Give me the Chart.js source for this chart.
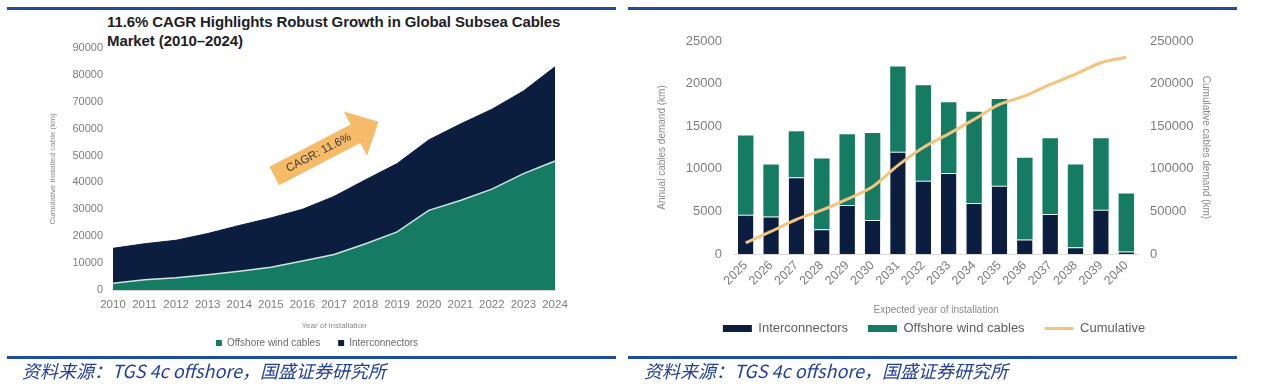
<!DOCTYPE html>
<html>
<head>
<meta charset="utf-8">
<title>Global Subsea Cables</title>
<script src="https://cdn.jsdelivr.net/npm/chart.js@4.4.0/dist/chart.umd.min.js"></script>
<style>
  body { margin:0; background:#fff; width:1268px; height:392px; position:relative; overflow:hidden;
         font-family:"Liberation Sans", Arial, sans-serif; }
  .rule { position:absolute; height:3px; background:#1d4d9e; }
  .box { position:absolute; }
  .title { position:absolute; left:107px; top:12px; font-weight:bold; font-size:15px; line-height:19px;
           color:#1e1e26; letter-spacing:-0.1px; }
  .source { position:absolute; top:360px; font-size:18px; line-height:21px; font-style:italic; color:#22409a;
            font-family:"Noto Sans CJK SC", sans-serif; white-space:nowrap; }
</style>
</head>
<body>
<div class="rule" style="left:7px; width:609px; top:7px;"></div>
<div class="rule" style="left:628px; width:609px; top:7px;"></div>
<div class="rule" style="left:7px; width:609px; top:356px;"></div>
<div class="rule" style="left:628px; width:609px; top:356px;"></div>

<div class="title">11.6% CAGR Highlights Robust Growth in Global Subsea Cables<br>Market (2010–2024)</div>

<div class="box" style="left:0; top:0;"><canvas id="installed" width="610" height="358"></canvas></div>
<div class="box" style="left:630px; top:20px;"><canvas id="demand" width="610" height="325"></canvas></div>

<div class="source" style="left:22px;">资料来源：TGS 4c offshore，国盛证券研究所</div>
<div class="source" style="left:644px;">资料来源：TGS 4c offshore，国盛证券研究所</div>

<script>
// left chart: cumulative installed cable (km), stacked
const installYears = ['2010', '2011', '2012', '2013', '2014', '2015', '2016', '2017',
                      '2018', '2019', '2020', '2021', '2022', '2023', '2024'];
const offshoreInstalled = [2500, 3800, 4600, 5700, 7000, 8500, 10800, 13200,
                           17200, 21600, 29600, 33300, 37500, 43300, 48000];
const interconnInstalled = [13000, 13400, 13900, 15300, 17000, 18300, 19200, 21600,
                            23800, 25400, 26200, 28400, 29700, 30700, 35000];

// right chart: expected annual demand (km) and cumulative (km)
const demandYears = ['2025', '2026', '2027', '2028', '2029', '2030', '2031', '2032',
                     '2033', '2034', '2035', '2036', '2037', '2038', '2039', '2040'];
const interconnAnnual = [4600, 4400, 9000, 2900, 5750, 4000, 12000, 8600,
                         9500, 6000, 8000, 1700, 4700, 800, 5200, 300];
const offshoreAnnual = [9300, 6100, 5400, 8300, 8300, 10200, 10000, 11200,
                        8300, 10700, 10200, 9600, 8900, 9700, 8400, 6800];
const cumulativeDemand = [13000, 26500, 40500, 51500, 64500, 79000, 104000, 125000,
                          141000, 158000, 175500, 185500, 199000, 211000, 224500, 231000];

const NAVY = '#0b1e3f';
const GREEN = '#157b63';
const ORANGE = '#f4c37c';
const TICK = '#7d7d7d';
const plain = v => String(v);

// arrow annotation, in (category index, value) coordinates
const arrowTail = [5.11, 42400];
const arrowTip = [8.41, 62600];

const cagrArrow = {
  id: 'cagrArrow',
  afterDatasetsDraw(chart) {
    const { ctx, scales: { x, y } } = chart;
    const tx = x.getPixelForValue(arrowTail[0]), ty = y.getPixelForValue(arrowTail[1]);
    const hx = x.getPixelForValue(arrowTip[0]), hy = y.getPixelForValue(arrowTip[1]);
    const len = Math.hypot(hx - tx, hy - ty);
    const sw = 10.5, hw = 25, hl = 26;
    ctx.save();
    ctx.translate(tx, ty);
    ctx.rotate(Math.atan2(hy - ty, hx - tx));
    ctx.beginPath();
    ctx.moveTo(0, -sw);
    ctx.lineTo(len - hl, -sw);
    ctx.lineTo(len - hl, -hw);
    ctx.lineTo(len, 0);
    ctx.lineTo(len - hl, hw);
    ctx.lineTo(len - hl, sw);
    ctx.lineTo(0, sw);
    ctx.closePath();
    ctx.fillStyle = '#f5bb68';
    ctx.fill();
    ctx.fillStyle = '#3b3b3b';
    ctx.font = '11.5px "Liberation Sans", Arial, sans-serif';
    ctx.textAlign = 'center';
    ctx.textBaseline = 'middle';
    ctx.fillText('CAGR: 11.6%', 50, 0);
    ctx.restore();
  }
};

const solidLegend = (chart) =>
  Chart.defaults.plugins.legend.labels.generateLabels(chart).map(l => ({ ...l, strokeStyle: l.fillStyle, lineWidth: 0 }));

new Chart(document.getElementById('installed'), {
  type: 'line',
  data: {
    labels: installYears,
    datasets: [
      {
        label: 'Offshore wind cables',
        data: offshoreInstalled,
        backgroundColor: GREEN,
        borderColor: '#cfe6de',
        borderWidth: 1.5,
        fill: 'origin',
        pointRadius: 0,
        pointStyle: 'rect',
        tension: 0
      },
      {
        label: 'Interconnectors',
        data: interconnInstalled,
        backgroundColor: NAVY,
        borderColor: NAVY,
        borderWidth: 1,
        fill: '-1',
        pointRadius: 0,
        pointStyle: 'rect',
        tension: 0
      }
    ]
  },
  options: {
    responsive: false,
    animation: false,
    devicePixelRatio: 1,
    layout: { padding: { left: 44, top: 48, right: 20, bottom: 0 } },
    plugins: {
      tooltip: { enabled: false },
      legend: {
        position: 'bottom',
        labels: {
          usePointStyle: true,
          boxHeight: 6,
          boxWidth: 6,
          padding: 18,
          color: '#6a6a6a',
          font: { size: 10, family: '"Liberation Sans", Arial, sans-serif' },
          generateLabels: solidLegend
        }
      }
    },
    scales: {
      x: {
        grid: { display: false, drawTicks: false },
        border: { display: true, color: '#d6d6d6' },
        ticks: { color: TICK, padding: 8, maxRotation: 0, autoSkip: false,
                 font: { size: 11.5, family: '"Liberation Sans", Arial, sans-serif' } },
        title: { display: true, text: 'Year of installation', color: '#8a8a8a',
                 font: { size: 8, family: '"Liberation Sans", Arial, sans-serif' },
                 padding: { top: 0, bottom: -11 } },
        afterFit: s => { s.height = 30; }
      },
      y: {
        stacked: true,
        min: 0,
        max: 90000,
        grid: { display: false, drawTicks: false },
        border: { display: false },
        ticks: { stepSize: 10000, color: TICK, padding: 10, callback: plain,
                 font: { size: 11, family: '"Liberation Sans", Arial, sans-serif' } },
        title: { display: true, text: 'Cumulative installed cable (km)', color: '#8a8a8a',
                 font: { size: 8, family: '"Liberation Sans", Arial, sans-serif' } },
        afterFit: s => { s.width = 69; }
      },
      pad: {
        type: 'linear',
        position: 'right',
        grid: { display: false, drawTicks: false },
        border: { display: false },
        ticks: { display: false },
        afterFit: s => { s.width = 35; }
      }
    }
  },
  plugins: [cagrArrow]
});

new Chart(document.getElementById('demand'), {
  data: {
    labels: demandYears,
    datasets: [
      {
        type: 'bar',
        label: 'Interconnectors',
        data: interconnAnnual,
        backgroundColor: NAVY,
        borderColor: '#e4f0ec',
        borderWidth: { top: 1 },
        borderSkipped: 'bottom',
        stack: 'annual',
        yAxisID: 'y',
        order: 1
      },
      {
        type: 'bar',
        label: 'Offshore wind cables',
        data: offshoreAnnual,
        backgroundColor: GREEN,
        borderWidth: 0,
        stack: 'annual',
        yAxisID: 'y',
        order: 1
      },
      {
        type: 'line',
        label: 'Cumulative',
        data: cumulativeDemand,
        borderColor: ORANGE,
        backgroundColor: ORANGE,
        borderWidth: 3,
        pointRadius: 0,
        tension: 0.3,
        yAxisID: 'y1',
        order: 0
      }
    ]
  },
  options: {
    responsive: false,
    animation: false,
    devicePixelRatio: 1,
    layout: { padding: { left: 22, top: 21, right: 24, bottom: 0 } },
    datasets: { bar: { categoryPercentage: 1, barPercentage: 0.61 } },
    plugins: {
      tooltip: { enabled: false },
      legend: {
        position: 'bottom',
        labels: {
          usePointStyle: true,
          pointStyleWidth: 29,
          boxHeight: 7,
          padding: 20,
          color: '#5e5e5e',
          font: { size: 13, family: '"Liberation Sans", Arial, sans-serif' },
          sort: (a, b) => a.datasetIndex - b.datasetIndex,
          generateLabels: chart => solidLegend(chart).map(l => {
            const isLine = l.datasetIndex === 2;
            return {
              ...l,
              pointStyle: isLine ? 'line' : 'rect',
              strokeStyle: isLine ? ORANGE : l.fillStyle,
              lineWidth: isLine ? 3 : 0
            };
          })
        }
      }
    },
    scales: {
      x: {
        stacked: true,
        grid: { display: false, drawTicks: false },
        border: { display: true, color: '#dcdcdc' },
        ticks: { color: TICK, padding: 4, minRotation: 45, maxRotation: 45, autoSkip: false,
                 font: { size: 12.5, family: '"Liberation Sans", Arial, sans-serif' } },
        title: { display: true, text: 'Expected year of installation', color: '#8a8a8a',
                 font: { size: 10, family: '"Liberation Sans", Arial, sans-serif' },
                 padding: { top: 0, bottom: -14 } },
        afterFit: s => { s.height = 48; }
      },
      y: {
        stacked: true,
        position: 'left',
        min: 0,
        max: 25000,
        grid: { display: false, drawTicks: false },
        border: { display: false },
        ticks: { stepSize: 5000, color: TICK, padding: 11, callback: plain,
                 font: { size: 13, family: '"Liberation Sans", Arial, sans-serif' } },
        title: { display: true, text: 'Annual cables demand (km)', color: '#8a8a8a',
                 font: { size: 10, family: '"Liberation Sans", Arial, sans-serif' } },
        afterFit: s => { s.width = 81; }
      },
      y1: {
        position: 'right',
        min: 0,
        max: 250000,
        grid: { display: false, drawTicks: false },
        border: { display: false },
        ticks: { stepSize: 50000, color: TICK, padding: 11, callback: plain,
                 font: { size: 13, family: '"Liberation Sans", Arial, sans-serif' } },
        title: { display: true, text: 'Cumulative cables demand (km)', color: '#8a8a8a',
                 font: { size: 10, family: '"Liberation Sans", Arial, sans-serif' } },
        afterFit: s => { s.width = 77; }
      }
    }
  }
});
</script>
</body>
</html>
